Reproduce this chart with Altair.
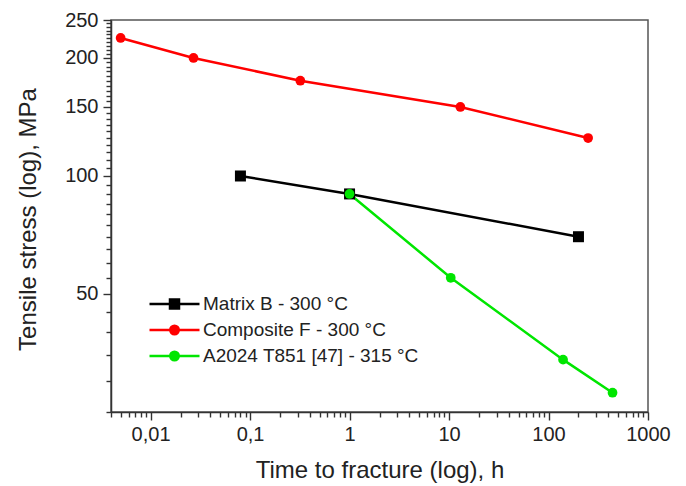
import altair as alt
import pandas as pd

# ---------------- data ----------------
series_names = ["Matrix B - 300 °C", "Composite F - 300 °C", "A2024 T851 [47] - 315 °C"]
series_colors = ["#000000", "#ff0000", "#00e600"]

matrix_time = [0.08, 1.0, 200]
matrix_stress = [100, 90, 70]

composite_time = [0.005, 0.027, 0.32, 13, 250]
composite_stress = [225, 200, 175, 150, 125]

a2024_time = [1.0, 10.4, 140, 440]
a2024_stress = [90, 55, 34, 28]

x_major = [0.01, 0.1, 1, 10, 100, 1000]
x_labels = ["0,01", "0,1", "1", "10", "100", "1000"]
x_minor = [round(m * 10.0 ** e, 6) for e in range(-3, 3) for m in range(2, 10)
           if 0.004 <= m * 10.0 ** e <= 1000]

y_major = [50, 100, 150, 200, 250]
y_labels = ["50", "100", "150", "200", "250"]
y_minor = [v for v in range(25, 251, 5) if v not in y_major]

rows = []
for name, ts, ss in [(series_names[0], matrix_time, matrix_stress),
                     (series_names[1], composite_time, composite_stress),
                     (series_names[2], a2024_time, a2024_stress)]:
    for t, s in zip(ts, ss):
        rows.append({"series": name, "time": t, "stress": s})
df = pd.DataFrame(rows)

FONT = "Liberation Sans"
xscale = alt.Scale(type="log", domain=[0.004, 1000], nice=False)
yscale = alt.Scale(type="log", domain=[25, 250], nice=False)
# reversed order only so that this (legend-less) colour scale is kept apart from the legend's scales
color_scale = alt.Scale(domain=series_names[::-1], range=series_colors[::-1])

x_label_expr = "".join(f"datum.value == {v} ? '{l}' : " for v, l in zip(x_major, x_labels)) + "''"
y_label_expr = "".join(f"datum.value == {v} ? '{l}' : " for v, l in zip(y_major, y_labels)) + "''"
x_major_test = "indexof([" + ",".join(str(v) for v in x_major) + "], datum.value) >= 0"
y_major_test = "indexof([" + ",".join(str(v) for v in y_major) + "], datum.value) >= 0"

x_axis = alt.Axis(values=sorted(x_major + x_minor), orient="bottom",
                  tickSize={"condition": {"test": x_major_test, "value": 8}, "value": 5},
                  tickWidth=1.4, tickColor="#333", domainColor="#333", domainWidth=1.5, grid=False,
                  labelExpr=x_label_expr, labelFont=FONT, labelFontSize=20,
                  labelColor="#222", labelPadding=4, labelFlush=False, labelOverlap=False,
                  title="Time to fracture (log), h", titleFont=FONT, titleFontSize=24,
                  titleFontWeight="normal", titleColor="#222",
                  titleX=268.5, titleY=65, titleAlign="center", titleBaseline="alphabetic")
y_axis = alt.Axis(values=sorted(y_major + y_minor), orient="left",
                  tickSize={"condition": {"test": y_major_test, "value": 8}, "value": 5},
                  tickWidth=1.4, tickColor="#333", domainColor="#333", domainWidth=1.5, grid=False,
                  labelExpr=y_label_expr, labelFont=FONT, labelFontSize=20, labelColor="#222",
                  labelPadding=5, labelFlush=False, labelOverlap=False,
                  title="Tensile stress (log), MPa", titleFont=FONT, titleFontSize=24,
                  titleFontWeight="normal", titleColor="#222",
                  titleAngle=270, titleX=-76, titleY=199, titleAlign="center",
                  titleBaseline="alphabetic")

lines = alt.Chart(df).mark_line(strokeWidth=2.5).encode(
    x=alt.X("time:Q", scale=xscale, axis=x_axis),
    y=alt.Y("stress:Q", scale=yscale, axis=y_axis),
    color=alt.Color("series:N", scale=color_scale, legend=None),
)

squares = alt.Chart(df).transform_filter(
    alt.datum.series == series_names[0]
).mark_square(size=121, opacity=1).encode(
    x=alt.X("time:Q", scale=xscale),
    y=alt.Y("stress:Q", scale=yscale),
    color=alt.Color("series:N", scale=color_scale, legend=None),
)

circles = alt.Chart(df).transform_filter(
    alt.datum.series != series_names[0]
).mark_circle(size=95, opacity=1).encode(
    x=alt.X("time:Q", scale=xscale),
    y=alt.Y("stress:Q", scale=yscale),
    color=alt.Color("series:N", scale=color_scale, legend=None),
)

# legend symbols: a line sample with the series marker in the middle
sq_path = "M-5,0H5M-0.9,-0.9H0.9V0.9H-0.9Z"
ci_path = "M-5,0H5M0.85,0A0.85,0.85,0,1,1,-0.85,0A0.85,0.85,0,1,1,0.85,0Z"

legend_def = alt.Legend(orient="none", legendX=34, legendY=274.5, title=None, padding=0,
                        symbolSize=100, symbolStrokeWidth=2.5, symbolOpacity=1,
                        symbolOffset=20, labelOffset=19, rowPadding=6, labelLimit=0,
                        labelFont=FONT, labelFontSize=19, labelColor="#222")

legend_layer = alt.Chart(df).transform_filter("false").mark_point().encode(
    x=alt.X("time:Q", scale=xscale),
    y=alt.Y("stress:Q", scale=yscale),
    fill=alt.Fill("series:N", scale=alt.Scale(domain=series_names, range=series_colors), legend=legend_def),
    stroke=alt.Stroke("series:N", scale=alt.Scale(domain=series_names, range=series_colors), legend=legend_def),
    shape=alt.Shape("series:N", scale=alt.Scale(domain=series_names, range=[sq_path, ci_path, ci_path]), legend=legend_def),
)

chart = alt.layer(lines, squares, circles, legend_layer).properties(
    width=537, height=392,
    autosize=alt.AutoSizeParams(type="none"),
    padding={"left": 111, "top": 20, "right": 38, "bottom": 74},
).configure(font=FONT).configure_view(stroke="#555", strokeWidth=1.5)

chart.save("out.html", embed_options={"renderer": "svg", "actions": False})
